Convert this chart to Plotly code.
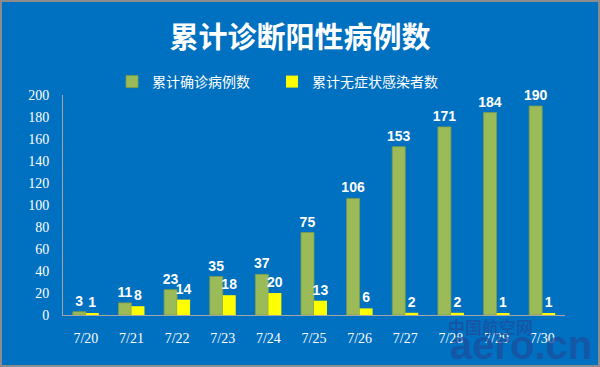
import plotly.graph_objects as go

dates = ["7/20", "7/21", "7/22", "7/23", "7/24", "7/25", "7/26", "7/27", "7/28", "7/29", "7/30"]
confirmed = [3, 11, 23, 35, 37, 75, 106, 153, 171, 184, 190]
asymptomatic = [1, 8, 14, 18, 20, 13, 6, 2, 2, 1, 1]
y_ticks = list(range(0, 201, 20))

W, H = 600, 367
L, R, T, B = 63, 35, 95, 52
pw, ph = W - L - R, H - T - B

lab_font = dict(family="Liberation Sans Narrow, Arial Narrow, Liberation Sans, sans-serif",
                size=14, color="white")
leg_font = dict(family="Noto Sans CJK SC", size=14, color="white")

fig = go.Figure()
fig.add_trace(go.Bar(
    x=dates, y=confirmed, name="累计确诊病例数", legend="legend",
    marker=dict(color="#9BBB59", line=dict(color="#7E9C47", width=0.8)),
    text=["<b>%d</b>" % v for v in confirmed], textposition="outside",
    textfont=lab_font, cliponaxis=False, constraintext="none",
))
fig.add_trace(go.Bar(
    x=dates, y=asymptomatic, name="累计无症状感染者数", legend="legend2",
    marker=dict(color="#FFFF00", line=dict(width=0)),
    text=["<b>%d</b>" % v for v in asymptomatic], textposition="outside",
    textfont=lab_font, cliponaxis=False, constraintext="none",
))

fig.update_layout(
    width=W, height=H,
    margin=dict(l=L, r=R, t=T, b=B, autoexpand=False),
    paper_bgcolor="#0070C0", plot_bgcolor="#0070C0",
    barmode="group", bargap=0.43, bargroupgap=0,
    title=dict(text="<b>累计诊断阳性病例数</b>", x=0.5, xanchor="center",
               y=1 - 38 / H, yanchor="middle",
               font=dict(family="Noto Sans CJK SC", size=29, color="white")),
    legend=dict(orientation="h", x=(112 - L) / pw, xanchor="left", y=1 + 13 / ph, yanchor="middle",
                font=leg_font, bgcolor="rgba(0,0,0,0)", itemwidth=30),
    legend2=dict(orientation="h", x=(272 - L) / pw, xanchor="left", y=1 + 13 / ph, yanchor="middle",
                 font=leg_font, bgcolor="rgba(0,0,0,0)", itemwidth=30),
    showlegend=True,
    xaxis=dict(showgrid=False, showline=True, linecolor="#A6A6A6", linewidth=1, automargin=False,
               ticks="", tickfont=dict(family="Liberation Serif, Times New Roman, serif", size=14, color="white"),
               ticklabelstandoff=10),
    yaxis=dict(range=[0, 200], showgrid=False, showline=True, linecolor="#A6A6A6", linewidth=1,
               ticks="", tickvals=y_ticks, zeroline=False, automargin=False,
               tickfont=dict(family="Liberation Serif, Times New Roman, serif", size=14, color="white"),
               ticklabelstandoff=10),
)

# watermark
wm_color = "rgba(30,78,158,0.72)"
fig.add_annotation(text="<b>中国航空网</b>", xref="paper", yref="paper",
                   x=(490 - L) / pw, y=(315 - 326) / ph,
                   showarrow=False, font=dict(family="Noto Sans CJK SC", size=17, color=wm_color),
                   xanchor="center", yanchor="middle")
fig.add_annotation(text="<b>aero.cn</b>", xref="paper", yref="paper",
                   x=(521 - L) / pw, y=(315 - 345) / ph,
                   showarrow=False, font=dict(family="Liberation Sans, sans-serif", size=40, color=wm_color),
                   xanchor="center", yanchor="middle")

# frame
fig.add_shape(type="rect", xref="paper", yref="paper",
              x0=-(L - 1) / pw, x1=1 + (R - 1) / pw, y0=-(B - 1) / ph, y1=1 + (T - 1) / ph,
              line=dict(color="#8C8C8C", width=2), layer="above")

fig.write_html("out.html", config={"displayModeBar": False},
               post_script="document.body.style.margin='0';document.body.style.overflow='hidden';")
